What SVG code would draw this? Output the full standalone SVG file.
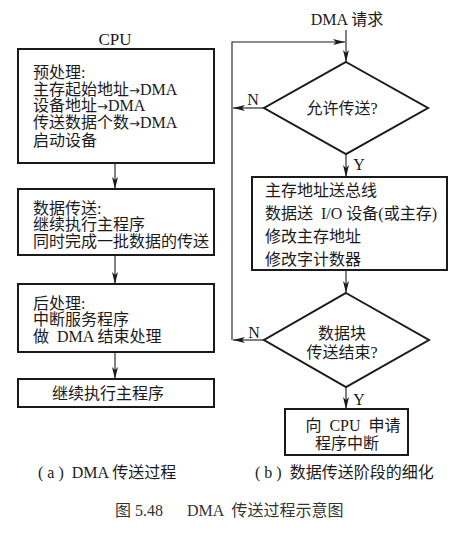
<svg xmlns="http://www.w3.org/2000/svg" width="464" height="543" viewBox="0 0 464 543">
<style>
text{font-family:"Liberation Serif","Noto Sans CJK SC",serif;font-size:16px;fill:#1a1a1a;white-space:pre}
.box{fill:#fff;stroke:#1a1a1a;stroke-width:2}
.c{fill:none;stroke:#1a1a1a;stroke-width:1.1}
.m{text-anchor:middle}
.a{font-family:"DejaVu Sans",sans-serif;font-size:13px}
</style>
<defs>
<marker id="ar" viewBox="0 0 12 6" refX="12" refY="3" markerWidth="12" markerHeight="6" markerUnits="userSpaceOnUse" orient="auto">
<path d="M0,0 L12,3 L0,6 L3,3 Z" fill="#1a1a1a"/>
</marker>
</defs>
<rect width="464" height="543" fill="#fff"/>
<text x="115" y="45" class="m" style="font-size:17px">CPU</text>
<g id="connectors">
<line class="c" x1="115" y1="163" x2="115" y2="189" marker-end="url(#ar)"/>
<line class="c" x1="115" y1="255" x2="115" y2="284" marker-end="url(#ar)"/>
<line class="c" x1="115" y1="352" x2="115" y2="379" marker-end="url(#ar)"/>
<line class="c" x1="346" y1="30" x2="346" y2="62" marker-end="url(#ar)"/>
<polyline class="c" points="232,340 232,42 345,42" marker-end="url(#ar)"/>
<line class="c" x1="264" y1="108" x2="233" y2="108" marker-end="url(#ar)"/>
<line class="c" x1="264" y1="340" x2="233" y2="340" marker-end="url(#ar)"/>
<line class="c" x1="346" y1="154" x2="346" y2="177" marker-end="url(#ar)"/>
<line class="c" x1="346" y1="270" x2="346" y2="293" marker-end="url(#ar)"/>
<line class="c" x1="346" y1="387" x2="346" y2="409" marker-end="url(#ar)"/>
<text x="253" y="105" class="m">N</text>
<text x="254" y="338" class="m">N</text>
<text x="359" y="170" class="m">Y</text>
<text x="359" y="405" class="m">Y</text>
</g>
<g id="pre">
<rect class="box" x="18" y="49" width="196" height="114"/>
<text x="33" y="78">预处理:</text>
<text x="33" y="95">主存起始地址<tspan class="a">→</tspan>DMA</text>
<text x="33" y="111">设备地址<tspan class="a">→</tspan>DMA</text>
<text x="33" y="128">传送数据个数<tspan class="a">→</tspan>DMA</text>
<text x="33" y="146">启动设备</text>
</g>
<g id="transfer">
<rect class="box" x="18" y="189" width="196" height="66"/>
<text x="33" y="214">数据传送:</text>
<text x="33" y="230">继续执行主程序</text>
<text x="33" y="247">同时完成一批数据的传送</text>
</g>
<g id="post">
<rect class="box" x="18" y="284" width="196" height="68"/>
<text x="33" y="309">后处理:</text>
<text x="33" y="325">中断服务程序</text>
<text x="33" y="342">做  DMA 结束处理</text>
</g>
<g id="cont">
<rect class="box" x="18" y="379" width="196" height="28"/>
<text x="108" y="399" class="m">继续执行主程序</text>
</g>
<g id="req">
<text x="347" y="25" class="m">DMA 请求</text>
</g>
<g id="allow">
<polygon class="box" points="346,62 428,108 346,154 264,108"/>
<text x="342" y="114" class="m">允许传送?</text>
</g>
<g id="steps">
<rect class="box" x="252" y="177" width="195" height="93"/>
<text x="265" y="196">主存地址送总线</text>
<text x="265" y="219">数据送  I/O 设备(或主存)</text>
<text x="265" y="242">修改主存地址</text>
<text x="265" y="265">修改字计数器</text>
</g>
<g id="done">
<polygon class="box" points="346,293 429,340 346,387 264,340"/>
<text x="342" y="339" class="m">数据块</text>
<text x="342" y="358" class="m">传送结束?</text>
</g>
<g id="irq">
<rect class="box" x="285" y="409" width="123" height="46"/>
<text x="353" y="431" class="m">向  CPU  申请</text>
<text x="347" y="449" class="m">程序中断</text>
</g>
<text x="38" y="478">( a )  DMA 传送过程</text>
<text x="255" y="478">( b )  数据传送阶段的细化</text>
<text x="115" y="516" style="font-size:16px;fill:#333">图 5.48<tspan x="187">DMA  传送过程示意图</tspan></text>
</svg>
